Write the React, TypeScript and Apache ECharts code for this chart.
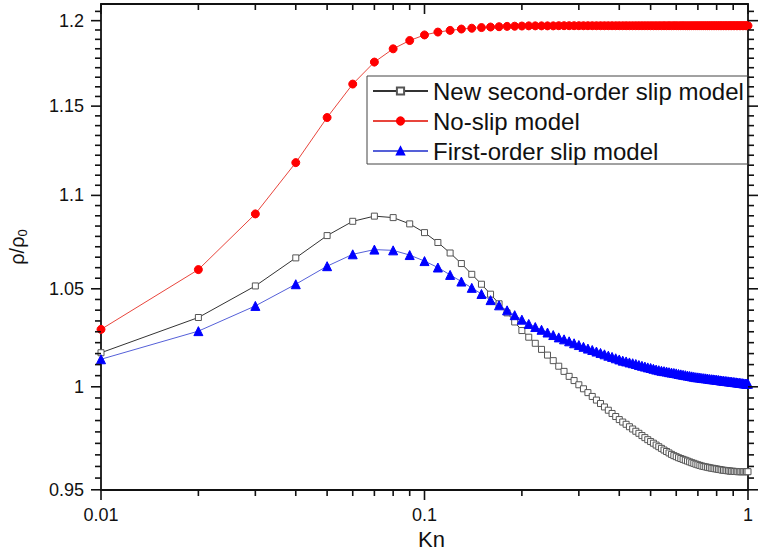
import React, { useEffect, useRef } from 'react';
import * as echarts from 'echarts';

const KN = [
  0.01, 0.02, 0.03, 0.04, 0.05, 0.06, 0.07, 0.08, 0.09, 0.1,
  0.11, 0.12, 0.13, 0.14, 0.15, 0.16, 0.17, 0.18, 0.19, 0.2,
  0.21, 0.22, 0.23, 0.24, 0.25, 0.26, 0.27, 0.28, 0.29, 0.3,
  0.31, 0.32, 0.33, 0.34, 0.35, 0.36, 0.37, 0.38, 0.39, 0.4,
  0.41, 0.42, 0.43, 0.44, 0.45, 0.46, 0.47, 0.48, 0.49, 0.5,
  0.51, 0.52, 0.53, 0.54, 0.55, 0.56, 0.57, 0.58, 0.59, 0.6,
  0.61, 0.62, 0.63, 0.64, 0.65, 0.66, 0.67, 0.68, 0.69, 0.7,
  0.71, 0.72, 0.73, 0.74, 0.75, 0.76, 0.77, 0.78, 0.79, 0.8,
  0.81, 0.82, 0.83, 0.84, 0.85, 0.86, 0.87, 0.88, 0.89, 0.9,
  0.91, 0.92, 0.93, 0.94, 0.95, 0.96, 0.97, 0.98, 0.99, 1.0,
];

const SECOND_ORDER = [
  1.0171, 1.0351, 1.0515, 1.0663, 1.0782, 1.0859, 1.0887, 1.0879, 1.0845, 1.0798,
  1.0745, 1.0689, 1.0633, 1.0576, 1.0524, 1.0472, 1.0422, 1.0375, 1.0328, 1.0284,
  1.025, 1.0219, 1.0188, 1.0159, 1.0131, 1.0103, 1.0077, 1.0052, 1.0031, 1.001,
  0.999, 0.9971, 0.9952, 0.9934, 0.9917, 0.99, 0.9884, 0.9868, 0.9853, 0.9838,
  0.9826, 0.9815, 0.9803, 0.9792, 0.9781, 0.9771, 0.976, 0.975, 0.974, 0.9731,
  0.9723, 0.9714, 0.9706, 0.9698, 0.969, 0.9683, 0.9676, 0.9669, 0.9663, 0.9658,
  0.9653, 0.9649, 0.9645, 0.9641, 0.9637, 0.9633, 0.9629, 0.9626, 0.9622, 0.9619,
  0.9616, 0.9613, 0.9611, 0.9609, 0.9607, 0.9605, 0.9603, 0.9602, 0.96, 0.9599,
  0.9597, 0.9596, 0.9594, 0.9593, 0.9592, 0.9591, 0.959, 0.9589, 0.9588, 0.9588,
  0.9587, 0.9587, 0.9586, 0.9586, 0.9586, 0.9586, 0.9586, 0.9586, 0.9586, 0.9586,
];

const NO_SLIP = [
  1.029, 1.0601, 1.0899, 1.1181, 1.1435, 1.1627, 1.1755, 1.1833, 1.1882, 1.1915,
  1.1932, 1.1942, 1.195, 1.1955, 1.1959, 1.1962, 1.1964, 1.1966, 1.1967, 1.1968,
  1.1969, 1.1969, 1.1969, 1.1969, 1.1969, 1.197, 1.197, 1.197, 1.197, 1.197,
  1.197, 1.197, 1.197, 1.197, 1.197, 1.197, 1.197, 1.197, 1.197, 1.197,
  1.197, 1.197, 1.197, 1.197, 1.197, 1.197, 1.197, 1.197, 1.197, 1.197,
  1.197, 1.197, 1.197, 1.197, 1.197, 1.197, 1.197, 1.197, 1.197, 1.197,
  1.197, 1.197, 1.197, 1.197, 1.197, 1.197, 1.197, 1.197, 1.197, 1.197,
  1.197, 1.197, 1.197, 1.197, 1.197, 1.197, 1.197, 1.197, 1.197, 1.197,
  1.197, 1.197, 1.197, 1.197, 1.197, 1.197, 1.197, 1.197, 1.197, 1.197,
  1.197, 1.197, 1.197, 1.197, 1.197, 1.197, 1.197, 1.197, 1.197, 1.197,
];

const FIRST_ORDER = [
  1.0138, 1.0281, 1.0411, 1.0524, 1.0619, 1.0682, 1.0707, 1.0703, 1.0678, 1.0646,
  1.0612, 1.0573, 1.0538, 1.0505, 1.0473, 1.0441, 1.0414, 1.0388, 1.0363, 1.034,
  1.0318, 1.0302, 1.0288, 1.0274, 1.0261, 1.0249, 1.0239, 1.0229, 1.0219, 1.021,
  1.0201, 1.0192, 1.0185, 1.0177, 1.017, 1.0163, 1.0156, 1.015, 1.0143, 1.0137,
  1.0131, 1.0127, 1.0122, 1.0118, 1.0114, 1.0109, 1.0105, 1.0101, 1.0097, 1.0094,
  1.009, 1.0086, 1.0083, 1.008, 1.0078, 1.0076, 1.0073, 1.0071, 1.0069, 1.0067,
  1.0064, 1.0062, 1.006, 1.0058, 1.0056, 1.0054, 1.0052, 1.005, 1.0048, 1.0047,
  1.0046, 1.0044, 1.0043, 1.0042, 1.0041, 1.0039, 1.0038, 1.0037, 1.0036, 1.0035,
  1.0034, 1.0032, 1.0031, 1.003, 1.0029, 1.0028, 1.0027, 1.0026, 1.0025, 1.0024,
  1.0023, 1.0022, 1.0021, 1.002, 1.0019, 1.0018, 1.0017, 1.0016, 1.0015, 1.0015,
];

const SERIES_NAMES = ['New second-order slip model', 'No-slip model', 'First-order slip model'];

const X_MAJOR_TICKS = [0.01, 0.1, 1];
const X_MINOR_TICKS = [0.02, 0.03, 0.04, 0.05, 0.06, 0.07, 0.08, 0.09, 0.2, 0.3, 0.4, 0.5, 0.6, 0.7, 0.8, 0.9];
const Y_MAJOR_TICKS = [0.95, 1, 1.05, 1.1, 1.15, 1.2];
const X_MIN = 0.01;
const X_MAX = 1;
const Y_MAX = 1.21;
const Y_MIN = 0.9499;

const FONT = "'Liberation Sans', Arial, Helvetica, sans-serif";
const AXIS_COLOR = '#111';

function buildMinorY(): number[] {
  const out: number[] = [];
  const ext = [...Y_MAJOR_TICKS, 1.25];
  for (let i = 0; i < ext.length - 1; i++) {
    const a = ext[i];
    const b = ext[i + 1];
    for (let j = 1; j < 9; j++) {
      const v = +(a + ((b - a) * j) / 9).toFixed(5);
      if (v < Y_MAX) out.push(v);
    }
  }
  return out;
}

export default function App() {
  const ref = useRef<HTMLDivElement>(null);
  useEffect(() => {
    const chart = echarts.init(ref.current!, null, { renderer: 'svg' });
    const yMinor = buildMinorY();
    const lineStyle = { color: AXIS_COLOR, width: 1.8 };
    const tickLine = { stroke: AXIS_COLOR, lineWidth: 1.6 };

    const xTicks = [...X_MAJOR_TICKS.map((v) => [v, 1]), ...X_MINOR_TICKS.map((v) => [v, 0])];
    const yTicks = [...Y_MAJOR_TICKS.map((v) => [v, 1]), ...yMinor.map((v) => [v, 0])];

    const xBase = (extra: any) => ({
      type: 'log',
      logBase: 10,
      min: X_MIN,
      max: X_MAX,
      splitLine: { show: false },
      minorTick: { show: false },
      axisTick: { show: false },
      ...extra,
    });
    const yBase = (extra: any) => ({
      type: 'log',
      logBase: 10,
      min: Y_MIN,
      max: Y_MAX,
      splitLine: { show: false },
      minorTick: { show: false },
      axisTick: { show: false },
      ...extra,
    });

    const makeSeries = (name: string, values: number[], color: string, lineColor: string, symbol: string, size: number, fill: string) => ({
      name,
      type: 'line',
      xAxisIndex: 0,
      yAxisIndex: 0,
      data: KN.map((k, i) => [k, values[i]]),
      symbol,
      symbolSize: size,
      showAllSymbol: true,
      lineStyle: { color: lineColor, width: 1 },
      itemStyle: { color: fill, borderColor: color, borderWidth: 1 },
      emphasis: { disabled: true },
      z: 2,
    });

    const option: any = {
      animation: false,
      backgroundColor: '#fff',
      textStyle: { fontFamily: FONT },
      grid: { left: 101, right: 12, top: 4, bottom: 64, containLabel: false, outerBoundsMode: 'none' },
      legend: {
        data: SERIES_NAMES,
        orient: 'vertical',
        left: 367,
        top: 76,
        itemWidth: 55,
        itemHeight: 9,
        itemGap: 6,
        padding: [3, 5, 1, 5],
        borderColor: '#444',
        borderWidth: 1,
        textStyle: { fontSize: 24, color: '#111', fontFamily: FONT },
        selectedMode: false,
      },
      xAxis: [
        xBase({
          position: 'bottom',
          axisLine: { show: true, onZero: false, lineStyle },
          axisLabel: { show: true, fontSize: 18, margin: 16, color: AXIS_COLOR, fontFamily: FONT },
          name: 'Kn',
          nameLocation: 'middle',
          nameGap: 38,
          nameTextStyle: { fontSize: 22, color: AXIS_COLOR, fontFamily: FONT, padding: [0, 0, 0, 14] },
        }),
        xBase({
          position: 'top',
          axisLine: { show: true, onZero: false, lineStyle },
          axisLabel: { show: false },
        }),
      ],
      yAxis: [
        yBase({
          position: 'left',
          axisLine: { show: true, onZero: false, lineStyle },
          axisLabel: {
            show: true,
            fontSize: 18,
            margin: 17,
            color: AXIS_COLOR,
            fontFamily: FONT,
            customValues: Y_MAJOR_TICKS,
            formatter: (v: number) => String(+Number(v).toFixed(2)),
          },
          name: '{a|ρ/ρ}{b|0}',
          nameLocation: 'middle',
          nameGap: 72,
          nameTextStyle: {
            color: AXIS_COLOR,
            rich: {
              a: { fontSize: 20, fontFamily: FONT, color: AXIS_COLOR },
              b: { fontSize: 13, fontFamily: FONT, color: AXIS_COLOR, padding: [12, 0, 0, 0] },
            },
          },
        }),
        yBase({
          position: 'right',
          axisLine: { show: true, onZero: false, lineStyle },
          axisLabel: { show: false },
        }),
      ],
      series: [
        makeSeries(SERIES_NAMES[0], SECOND_ORDER, '#555555', '#333333', 'rect', 6, '#ffffff'),
        makeSeries(SERIES_NAMES[1], NO_SLIP, '#ff0000', '#e8453c', 'circle', 8, '#ff0000'),
        makeSeries(SERIES_NAMES[2], FIRST_ORDER, '#0000ff', '#5560d8', 'triangle', 9, '#0000ff'),
        {
          name: 'x-ticks',
          type: 'custom',
          xAxisIndex: 0,
          yAxisIndex: 0,
          clip: false,
          silent: true,
          z: 5,
          data: xTicks.map(([v]) => [v, Y_MIN]),
          renderItem: (params: any, api: any) => {
            const v = api.value(0);
            const major = xTicks[params.dataIndex][1] === 1;
            const len = major ? 10 : 6;
            const b = api.coord([v, Y_MIN]);
            const t = api.coord([v, Y_MAX]);
            return {
              type: 'group',
              children: [
                { type: 'line', shape: { x1: b[0], y1: b[1], x2: b[0], y2: b[1] + len }, style: tickLine },
                { type: 'line', shape: { x1: t[0], y1: t[1], x2: t[0], y2: t[1] + len }, style: tickLine },
              ],
            };
          },
        },
        {
          name: 'y-ticks',
          type: 'custom',
          xAxisIndex: 0,
          yAxisIndex: 0,
          clip: false,
          silent: true,
          z: 5,
          data: yTicks.map(([v]) => [X_MIN, v]),
          renderItem: (params: any, api: any) => {
            const v = api.value(1);
            const major = yTicks[params.dataIndex][1] === 1;
            const len = major ? 10 : 6;
            const l = api.coord([X_MIN, v]);
            const r = api.coord([X_MAX, v]);
            return {
              type: 'group',
              children: [
                { type: 'line', shape: { x1: l[0] - len, y1: l[1], x2: l[0], y2: l[1] }, style: tickLine },
                { type: 'line', shape: { x1: r[0], y1: r[1], x2: r[0] + len, y2: r[1] }, style: tickLine },
              ],
            };
          },
        },
      ],
    };
    chart.setOption(option);
    return () => chart.dispose();
  }, []);
  return (
    <div
      ref={ref}
      style={{ position: 'fixed', left: 0, top: 0, width: 760, height: 554, background: '#fff' }}
    />
  );
}
